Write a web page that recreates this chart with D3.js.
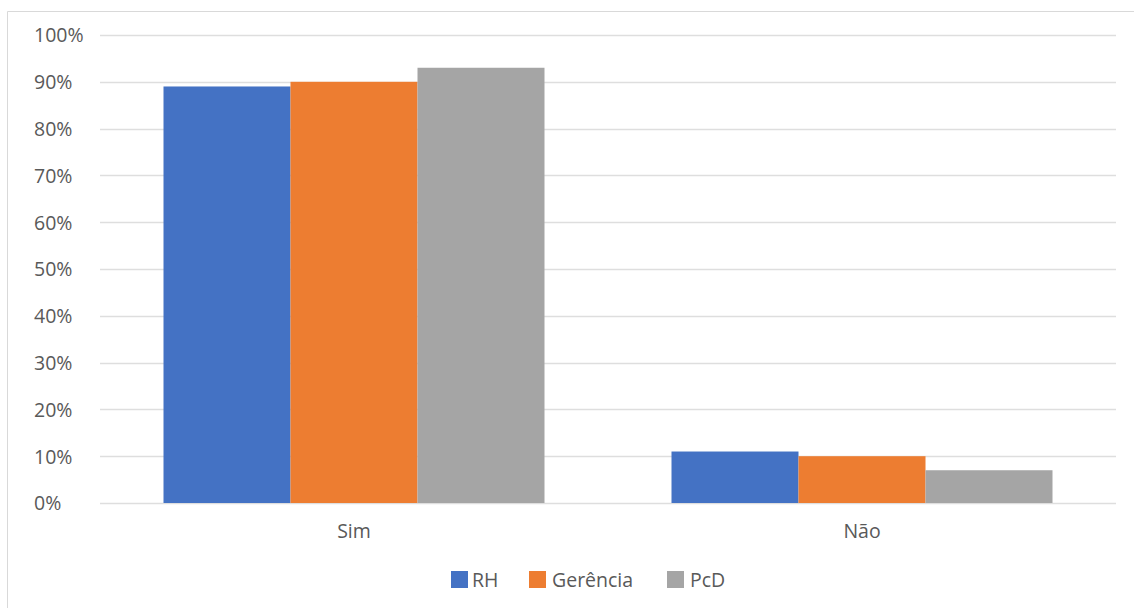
<!DOCTYPE html>
<html>
<head>
<meta charset="utf-8">
<script src="https://cdn.jsdelivr.net/npm/d3@7"></script>
<style>
  html, body { margin: 0; padding: 0; background: #fff; }
  svg { display: block; }
  text { font-family: "Open Sans", "Noto Sans", sans-serif; fill: #595959; }
</style>
</head>
<body>
<svg id="chart" width="1134" height="608"></svg>
<script>
// Categories, series and values (share of answers)
const categories = ["Sim", "Não"];
const seriesNames = ["RH", "Gerência", "PcD"];
const rhValues = [0.89, 0.11];
const gerenciaValues = [0.90, 0.10];
const pcdValues = [0.93, 0.07];
const yTicks = [0, 0.1, 0.2, 0.3, 0.4, 0.5, 0.6, 0.7, 0.8, 0.9, 1.0];
const colors = ["#4472C4", "#ED7D31", "#A5A5A5"];

const seriesValues = [rhValues, gerenciaValues, pcdValues];
const rows = categories.map((c, i) => ({
  category: c,
  values: seriesNames.map((s, j) => ({ series: s, value: seriesValues[j][i] }))
}));

const svg = d3.select("#chart");
const W = 1134, H = 608;
const plot = { left: 100, right: 1116, top: 35, bottom: 503 };
const fontSize = "19.5px";

// chart frame
svg.append("path")
  .attr("d", `M7.5,${H} V11.5 H${W}`)
  .attr("fill", "none")
  .attr("stroke", "#D9D9D9")
  .attr("stroke-width", 1);

const x0 = d3.scaleBand()
  .domain(categories)
  .range([plot.left, plot.right])
  .paddingInner(0.25)
  .paddingOuter(0.125);

const x1 = d3.scaleBand()
  .domain(seriesNames)
  .range([0, x0.bandwidth()]);

const y = d3.scaleLinear()
  .domain([0, 1])
  .range([plot.bottom, plot.top]);

// horizontal gridlines
svg.append("g")
  .selectAll("line")
  .data(yTicks)
  .join("line")
  .attr("x1", plot.left)
  .attr("x2", plot.right)
  .attr("y1", d => Math.round(y(d)) + 0.5)
  .attr("y2", d => Math.round(y(d)) + 0.5)
  .attr("stroke", "#DEDEDE")
  .attr("stroke-width", 1.3);

// y-axis labels
const yAxis = d3.axisLeft(y).tickValues(yTicks).tickFormat(d3.format(".0%")).tickSize(0);
const gy = svg.append("g").attr("transform", `translate(34,0)`).call(yAxis);
gy.select(".domain").remove();
gy.selectAll("text")
  .attr("text-anchor", "start")
  .attr("x", 0)
  .attr("dy", "0.35em")
  .style("font-size", fontSize)
  .style("font-family", "'Open Sans', sans-serif")
  .attr("fill", "#595959");

// bars
const groups = svg.append("g")
  .selectAll("g")
  .data(rows)
  .join("g")
  .attr("transform", d => `translate(${x0(d.category)},0)`);

groups.selectAll("rect")
  .data(d => d.values)
  .join("rect")
  .attr("x", d => x1(d.series))
  .attr("width", x1.bandwidth())
  .attr("y", d => y(d.value))
  .attr("height", d => y(0) - y(d.value))
  .attr("fill", (d, i) => colors[i]);

// category axis labels
const xAxis = d3.axisBottom(x0).tickSize(0);
const gx = svg.append("g").attr("transform", `translate(0,${plot.bottom})`).call(xAxis);
gx.select(".domain").remove();
gx.selectAll("text")
  .attr("y", 28)
  .attr("dy", "0.35em")
  .style("font-size", fontSize)
  .style("font-family", "'Open Sans', sans-serif")
  .attr("fill", "#595959");

// legend
const legendItems = [
  { name: seriesNames[0], sx: 451, tx: 472 },
  { name: seriesNames[1], sx: 529, tx: 552 },
  { name: seriesNames[2], sx: 667, tx: 690 }
];
const legend = svg.append("g");
legend.selectAll("rect")
  .data(legendItems)
  .join("rect")
  .attr("x", d => d.sx)
  .attr("y", 571)
  .attr("width", 17)
  .attr("height", 17)
  .attr("fill", (d, i) => colors[i]);
legend.selectAll("text")
  .data(legendItems)
  .join("text")
  .attr("x", d => d.tx)
  .attr("y", 580)
  .attr("dy", "0.35em")
  .style("font-size", fontSize)
  .text(d => d.name);
</script>
</body>
</html>
